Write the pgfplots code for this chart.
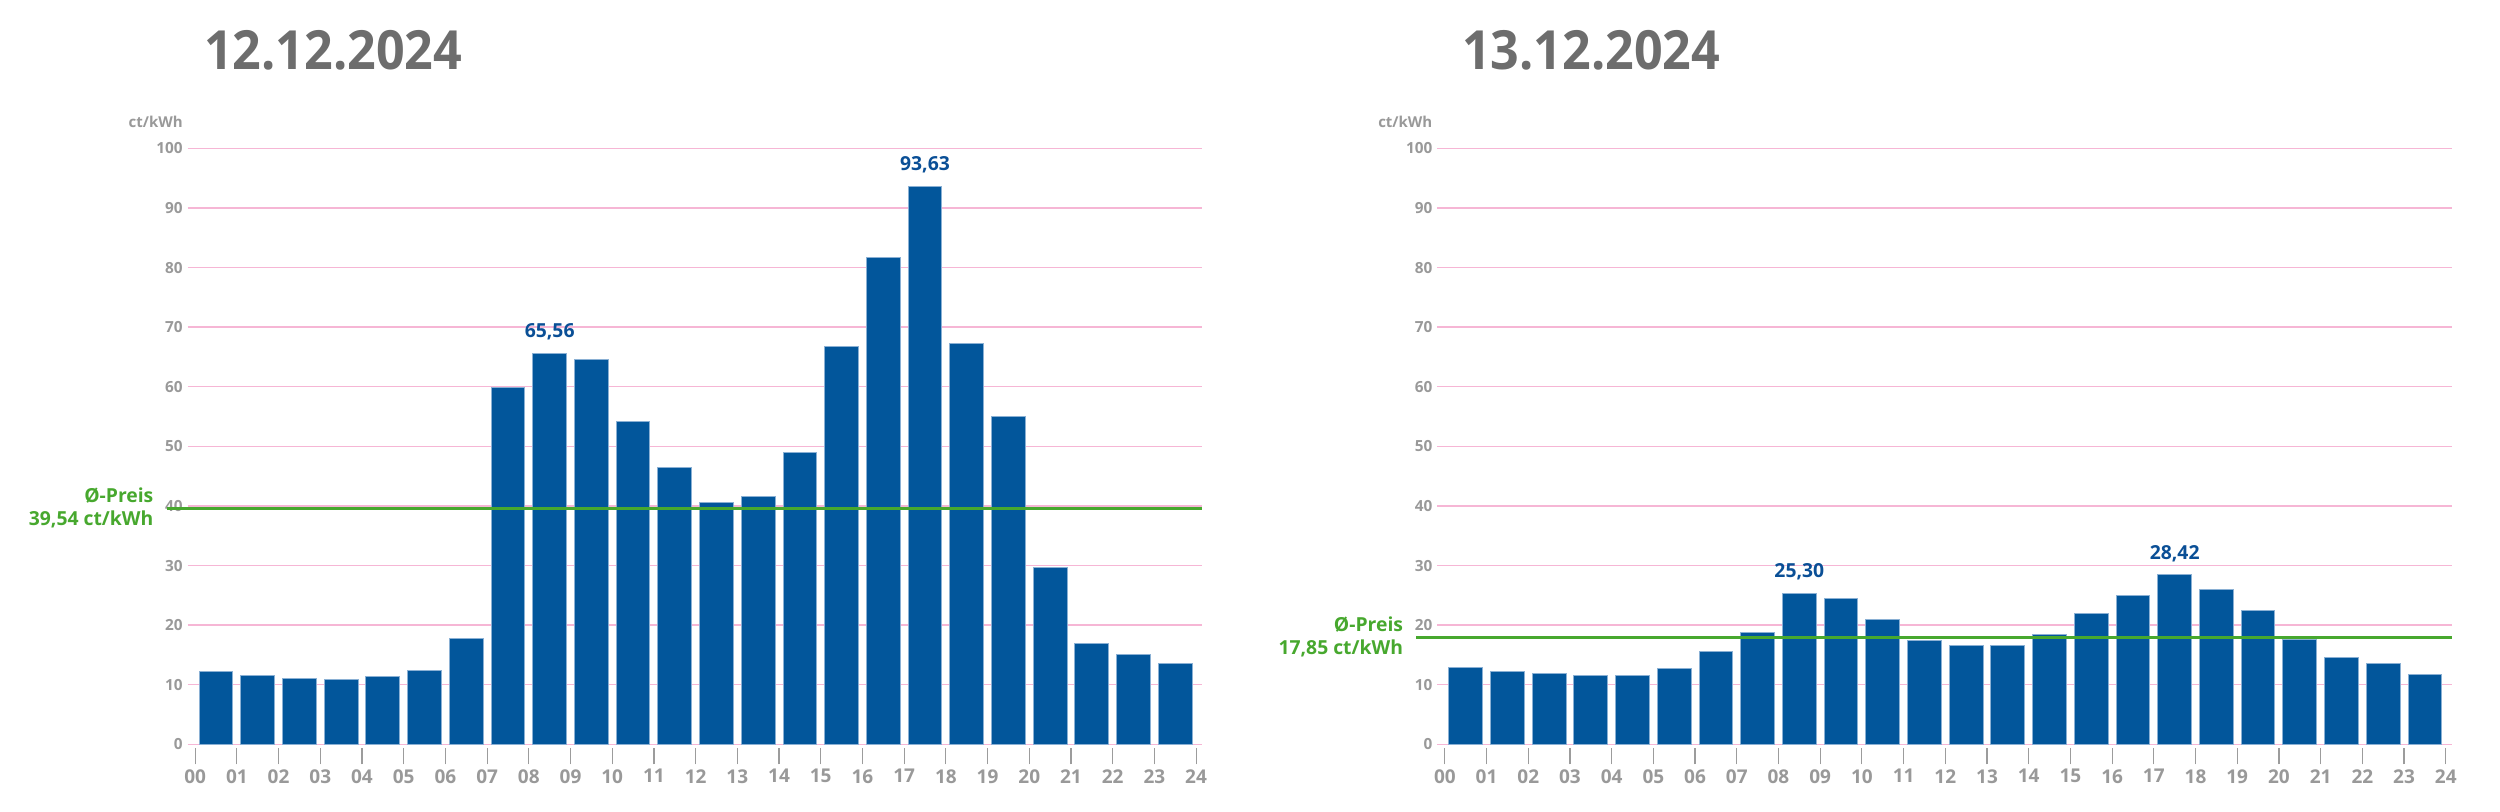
\documentclass[border=0pt]{standalone}
\usepackage{fontspec}
\setmainfont{Open Sans}
\newfontfamily\titlefont[FakeStretch=0.93]{Open Sans}
\usepackage{pgfplots}
\usepackage{pgfplotstable}
\pgfplotsset{compat=1.18}
\definecolor{barblue}{HTML}{02569B}
\definecolor{baredge}{HTML}{8AB0D4}
\definecolor{valblue}{HTML}{0A4F96}
\definecolor{avggreen}{HTML}{47A82E}
\definecolor{pinkgrid}{HTML}{F6B6D5}
\definecolor{labelgray}{HTML}{999999}
\definecolor{tickgray}{HTML}{9C9C9C}
\definecolor{titlegray}{HTML}{6D6D6D}

\pgfplotstableread{
x y
0.5 12.3
1.5 11.5
2.5 11.0
3.5 10.8
4.5 11.3
5.5 12.4
6.5 17.7
7.5 59.85
8.5 65.56
9.5 64.6
10.5 54.2
11.5 46.4
12.5 40.6
13.5 41.6
14.5 49.0
15.5 66.8
16.5 81.7
17.5 93.63
18.5 67.2
19.5 55.0
20.5 29.6
21.5 17.0
22.5 15.0
23.5 13.5
}\dayone

\pgfplotstableread{
x y
0.5 12.94
1.5 12.3
2.5 11.9
3.5 11.5
4.5 11.6
5.5 12.66
6.5 15.6
7.5 18.7
8.5 25.30
9.5 24.5
10.5 20.9
11.5 17.4
12.5 16.5
13.5 16.5
14.5 18.4
15.5 22.0
16.5 25.0
17.5 28.42
18.5 25.9
19.5 22.5
20.5 17.6
21.5 14.6
22.5 13.5
23.5 11.65
}\daytwo

\pgfplotsset{
  mystyle/.style={
    scale only axis, width=304.4pt, height=178.8pt,
    anchor=south west,
    xmin=-0.18, xmax=24.15, ymin=0, ymax=100,
    axis x line*=bottom, axis y line*=left,
    axis line style={draw=none},
    xtick={0,...,24},
    xticklabels={00,01,02,03,04,05,06,07,08,09,10,11,12,13,14,15,16,17,18,19,20,21,22,23,24},
    ytick={0,10,...,100},
    yticklabels={0,10,20,30,40,50,60,70,80,90,100},
    ymajorgrids, grid style={draw=pinkgrid, line width=0.4pt},
    ytick style={draw=none},
    xtick style={draw=tickgray, line width=0.35pt, yshift=-6pt},
    tick align=inside, major tick length=4.9pt,
    xticklabel style={font=\bfseries\fontsize{5.7}{6}\selectfont, text=labelgray, inner sep=0pt, anchor=north, yshift=-7.3pt},
    yticklabel style={font=\bfseries\fontsize{4.6}{5}\selectfont, text=labelgray, inner sep=0pt, anchor=east, xshift=-1.3pt},
    clip=false,
  },
  bars/.style={ybar, bar width=0.81, fill=barblue, draw=baredge, line width=0.3pt},
  avg/.style={avggreen, line width=0.9pt},
}
\tikzset{
  val/.style={anchor=base, text=valblue, font=\bfseries\fontsize{5.8}{7}\selectfont, inner sep=0pt, yshift=4.7pt},
  unit/.style={anchor=base east, text=labelgray, font=\bfseries\fontsize{4.5}{5}\selectfont, inner sep=0pt, xshift=-1.3pt, yshift=6.2pt},
  avglab/.style={anchor=base east, text=avggreen, font=\bfseries\fontsize{5.8}{7}\selectfont, inner sep=0pt, xshift=-10.1pt},
  ttl/.style={anchor=base west, font=\titlefont\bfseries\fontsize{16.2}{18}\selectfont, text=titlegray, inner sep=0pt},
}

\begin{document}
\begin{tikzpicture}
\node[ttl] at (61.0pt,222.6pt) {12.12.2024};
\node[ttl] at (438.4pt,222.6pt) {13.12.2024};

\begin{axis}[mystyle, at={(56.3pt,20.3pt)}]
\addplot[bars] table[x=x,y=y] {\dayone};
\addplot[avg] coordinates {(-0.68,39.54) (24.15,39.54)};
\node[val] at (axis cs:8.5,65.56) {65,56};
\node[val] at (axis cs:17.5,93.63) {93,63};
\node[unit] at (axis cs:-0.18,100) {ct/kWh};
\node[avglab, yshift=1.8pt] at (axis cs:-0.18,39.54) {Ø-Preis};
\node[avglab, yshift=-4.9pt] at (axis cs:-0.18,39.54) {39,54 ct/kWh};
\end{axis}

\begin{axis}[mystyle, at={(431.2pt,20.3pt)}]
\addplot[bars] table[x=x,y=y] {\daytwo};
\addplot[avg] coordinates {(-0.68,17.85) (24.15,17.85)};
\node[val] at (axis cs:8.5,25.30) {25,30};
\node[val] at (axis cs:17.5,28.42) {28,42};
\node[unit] at (axis cs:-0.18,100) {ct/kWh};
\node[avglab, yshift=1.8pt] at (axis cs:-0.18,17.85) {Ø-Preis};
\node[avglab, yshift=-4.9pt] at (axis cs:-0.18,17.85) {17,85 ct/kWh};
\end{axis}

\pgfresetboundingbox
\path (0,0) rectangle (750pt,243.6pt);
\end{tikzpicture}
\end{document}
